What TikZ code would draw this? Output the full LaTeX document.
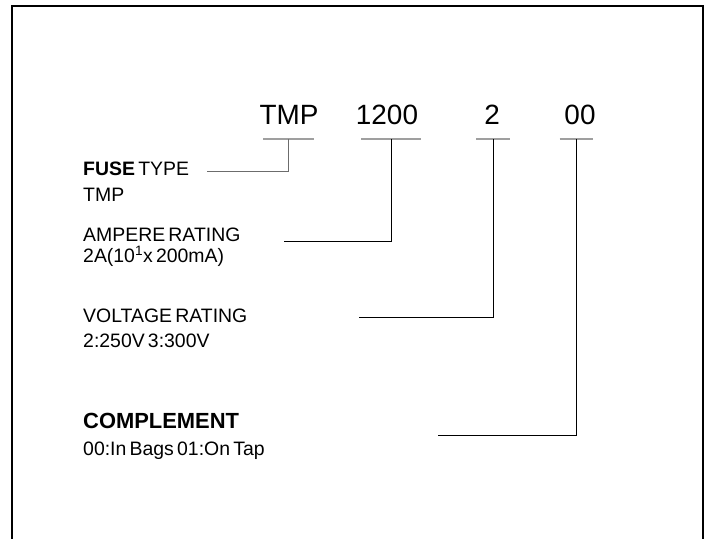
\documentclass[tikz,border=0pt]{standalone}
\usepackage{fontspec}
\setmainfont[WordSpace=0.6]{Liberation Sans}
\usetikzlibrary{positioning}

\begin{document}
\begin{tikzpicture}[
x=1bp, y=-1bp,
code/.style={anchor=base, inner sep=0pt, font=\fontsize{28}{30}\selectfont},
lbl/.style={anchor=base west, inner sep=0pt, font=\fontsize{19.5}{22}\selectfont},
bar/.style={inner sep=0pt, minimum height=0pt, outer sep=0pt},
barline/.style={draw=gray!75, line width=1.1bp},
wire/.style={draw=black, line width=0.9bp}
]
\useasboundingbox (0,0) rectangle (708,539);

% frame, open at the bottom
\draw[line width=1.6bp] (12,539) -- (12,6) -- (703,6) -- (703,539);

% part number
\node[code] (tmp) at (289,125) {TMP};
\node[code] (amp) at (387,125) {1200};
\node[code] (volt) at (492,125) {2};
\node[code] (comp) at (580,125) {00};

\node[bar, minimum width=51bp] (tmpbar) at (288.5,139) {};
\node[bar, minimum width=60bp] (ampbar) at (391,139) {};
\node[bar, minimum width=34bp] (voltbar) at (493,139) {};
\node[bar, minimum width=33bp] (compbar) at (576,139) {};

\foreach \b in {tmpbar,ampbar,voltbar,compbar}
  \draw[barline] (\b.west) -- (\b.east);

% descriptions
\node[lbl] (fuse) at (83,176) {{\bfseries FUSE} TYPE};
\node[lbl] (fusev) at (83,202) {TMP};
\node[lbl] (ampr) at (83,242) {AMPERE RATING};
\node[lbl] (amprv) at (83,263) {2A(10\textsuperscript{1}x 200mA)};
\node[lbl] (voltr) at (83,322) {VOLTAGE RATING};
\node[lbl] (voltrv) at (83,347) {2:250V 3:300V};
\node[lbl, font=\fontsize{22}{24}\selectfont\bfseries] (compl) at (83,428) {COMPLEMENT};
\node[lbl] (complv) at (83,455) {00:In Bags 01:On Tap};

\coordinate (fuseend) at (207,171);
\coordinate (amprend) at (284,241);
\coordinate (voltrend) at (359,317);
\coordinate (complend) at (438,435);

% connectors
\draw[wire, draw=gray!85!black] (tmpbar.center) |- (fuseend);
\draw[wire] (ampbar.center) |- (amprend);
\draw[wire] (voltbar.center) |- (voltrend);
\draw[wire] (compbar.center) |- (complend);

\end{tikzpicture}
\end{document}
